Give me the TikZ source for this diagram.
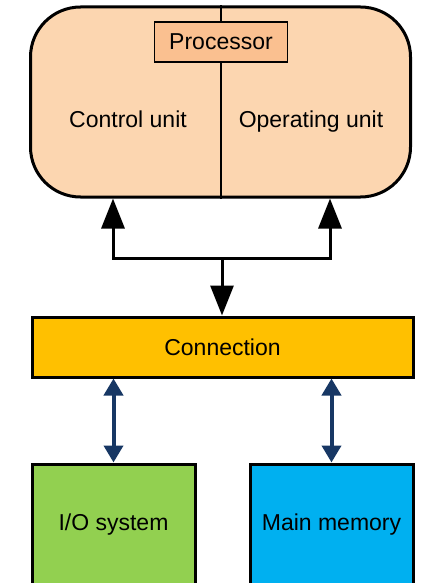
\documentclass[tikz,border=0pt]{standalone}
\usepackage{fontspec}
\setmainfont{Liberation Sans}
\usetikzlibrary{arrows.meta, positioning}

\definecolor{procfill}{RGB}{252,214,176}
\definecolor{titlefill}{RGB}{250,192,144}
\definecolor{connfill}{RGB}{255,192,0}
\definecolor{iofill}{RGB}{146,208,80}
\definecolor{memfill}{RGB}{0,176,240}
\definecolor{busblue}{RGB}{23,55,100}

\begin{document}
\begin{tikzpicture}[x=1pt, y=-1pt,
  >={Triangle[length=30pt, width=23pt]},
  box/.style={draw, line width=3pt, inner sep=0pt},
  lbl/.style={font=\fontsize{23}{27}\selectfont},
  bus/.style={line width=4pt, draw=busblue,
    {Triangle[length=17pt, width=19pt]}-{Triangle[length=17pt, width=19pt]}}]
  \useasboundingbox (0,0) rectangle (421,583);
  % processor
  \node (proc) at (220.5,102) [box, rounded corners=50pt, fill=procfill,
    minimum width=380pt, minimum height=190pt] {};
  \draw [line width=2pt] (proc.north) -- (proc.south);
  \node (title) at (221,42) [draw, line width=1.5pt, fill=titlefill,
    minimum width=133pt, minimum height=40pt, lbl] {Processor};
  \node (ctrl) at (128,128) [anchor=base, lbl] {Control unit};
  \node (oper) at (311,128) [anchor=base, lbl] {Operating unit};
  % connection and units
  \node (conn) at (222.5,347) [box, fill=connfill, minimum width=381pt,
    minimum height=60pt, lbl] {Connection};
  \node (io) at (113.5,525) [box, fill=iofill, minimum width=163pt,
    minimum height=122pt, lbl] {I/O system};
  \node (mem) at (331.5,525) [box, fill=memfill, minimum width=163pt,
    minimum height=122pt, lbl] {Main memory};
  % arrows
  \coordinate (split) at (222,258);
  \coordinate (cuport) at (113,0);
  \coordinate (ouport) at (330,0);
  \draw [->, line width=3pt] (split) -| (cuport |- proc.south);
  \draw [->, line width=3pt] (split) -| (ouport |- proc.south);
  \draw [->, line width=3pt] (split) -- (split |- conn.north);
  \draw [bus] (io.north) -- (io.north |- conn.south);
  \draw [bus] (mem.north) -- (mem.north |- conn.south);
\end{tikzpicture}
\end{document}
